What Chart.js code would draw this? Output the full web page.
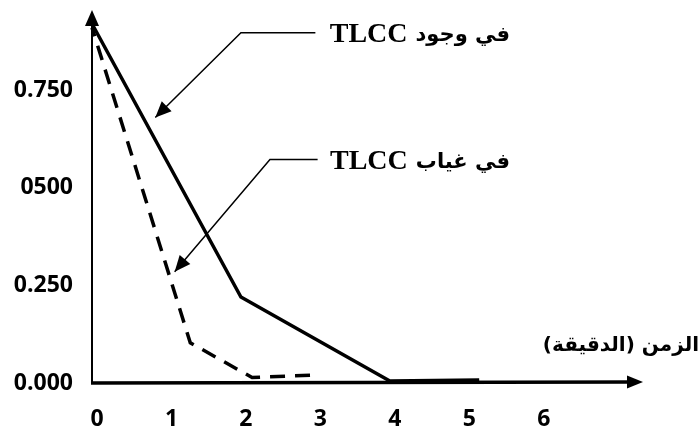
<!DOCTYPE html>
<html>
<head>
<meta charset="utf-8">
<script src="https://cdn.jsdelivr.net/npm/chart.js@4.4.1/dist/chart.umd.min.js"></script>
<style>
  body { margin: 0; background: #fff; }
</style>
</head>
<body>
<canvas id="plots" width="699" height="428"></canvas>
<script>
// time axis (minutes)
var timeTicks = [0, 1, 2, 3, 4, 5, 6];
// y ticks, label text as printed (incl. the "0500")
var yTickValues = [0, 0.25, 0.5, 0.75];
var yTickLabels = ["0.000", "0.250", "0500", "0.750"];

// with TLCC (solid)
var withX = [0, 2, 4, 5.2];
var withY = [0.92, 0.22, 0.005, 0.008];
// without TLCC (dashed)
var withoutX = [0, 1.32, 2.15, 3.05];
var withoutY = [0.91, 0.103, 0.014, 0.021];

var xTitle = "الزمن (الدقيقة)";
var calloutArabic = ["في وجود", "في غياب"];
var calloutLatin = "TLCC";

function pts(xs, ys) {
    return xs.map(function (x, i) { return { x: x, y: ys[i] }; });
}

function arrowHead(ctx, x0, y0, x1, y1, len, half) {
    var a = Math.atan2(y1 - y0, x1 - x0);
    ctx.beginPath();
    ctx.moveTo(x1, y1);
    ctx.lineTo(x1 - len * Math.cos(a) + half * Math.sin(a), y1 - len * Math.sin(a) - half * Math.cos(a));
    ctx.lineTo(x1 - len * Math.cos(a) - half * Math.sin(a), y1 - len * Math.sin(a) + half * Math.cos(a));
    ctx.closePath();
    ctx.fill();
}

// axes with arrows + callouts
var decor = {
    id: 'decor',
    beforeDatasetsDraw: function (chart) {
        var ctx = chart.ctx, a = chart.chartArea;
        ctx.save();
        ctx.strokeStyle = '#000';
        ctx.fillStyle = '#000';
        // y axis
        ctx.lineWidth = 2;
        ctx.beginPath();
        ctx.moveTo(a.left, a.bottom + 1);
        ctx.lineTo(a.left, a.top + 8);
        ctx.stroke();
        arrowHead(ctx, a.left, a.bottom, a.left, a.top - 2, 16, 7);
        // x axis
        ctx.lineWidth = 3.5;
        ctx.beginPath();
        ctx.moveTo(a.left - 1, a.bottom);
        ctx.lineTo(a.right - 8, a.bottom - 1);
        ctx.stroke();
        arrowHead(ctx, a.left, a.bottom - 1, a.right, a.bottom - 1, 16, 6.5);
        ctx.restore();
    },
    afterDraw: function (chart) {
        var ctx = chart.ctx, xs = chart.scales.x, ys = chart.scales.y;
        function px(v) { return xs.getPixelForValue(v); }
        function py(v) { return ys.getPixelForValue(v); }
        ctx.save();
        ctx.strokeStyle = '#000';
        ctx.fillStyle = '#000';
        ctx.lineWidth = 1.5;
        var callouts = [
            [[3.0, 0.897], [2.0, 0.897], [0.85, 0.68]],
            [[3.03, 0.572], [2.39, 0.572], [1.11, 0.285]]
        ];
        callouts.forEach(function (c, i) {
            ctx.beginPath();
            ctx.moveTo(px(c[0][0]), py(c[0][1]));
            ctx.lineTo(px(c[1][0]), py(c[1][1]));
            ctx.lineTo(px(c[2][0]), py(c[2][1]));
            ctx.stroke();
            arrowHead(ctx, px(c[1][0]), py(c[1][1]), px(c[2][0]), py(c[2][1]), 16, 7);
            var ty = py(c[0][1]) + 2;
            ctx.textBaseline = 'middle';
            ctx.textAlign = 'right';
            ctx.direction = 'rtl';
            ctx.font = "bold 21px 'DejaVu Sans'";
            ctx.fillText(calloutArabic[i], 510, ty + 1);
            var w = ctx.measureText(calloutArabic[i]).width;
            ctx.direction = 'ltr';
            ctx.font = "bold 28px 'Liberation Serif'";
            ctx.fillText(calloutLatin, 510 - w - 8, ty);
        });
        // x title
        ctx.font = "bold 20px 'DejaVu Sans'";
        ctx.direction = 'rtl';
        ctx.textAlign = 'right';
        ctx.textBaseline = 'middle';
        ctx.fillText(xTitle, 699, 346);
        ctx.restore();
    }
};

new Chart(document.getElementById("plots"), {
    type: 'line',
    data: {
        datasets: [{
            data: pts(withX, withY),
            borderColor: '#000',
            borderWidth: 3.5,
            pointRadius: 0,
            fill: false,
            tension: 0,
            clip: false
        }, {
            data: pts(withoutX, withoutY),
            borderColor: '#000',
            borderWidth: 3.5,
            borderDash: [15, 10],
            borderDashOffset: 6,
            pointRadius: 0,
            fill: false,
            tension: 0,
            clip: false
        }]
    },
    plugins: [decor],
    options: {
        responsive: false,
        animation: false,
        devicePixelRatio: 1,
        layout: { padding: { top: 12, right: 56, left: 0, bottom: 0 } },
        plugins: { legend: { display: false }, tooltip: { enabled: false } },
        scales: {
            x: {
                type: 'linear',
                min: 0,
                max: 7.4,
                afterBuildTicks: function (s) { s.ticks = timeTicks.map(function (v) { return { value: v }; }); },
                afterFit: function (s) { s.height = 45; s.paddingLeft = 0; s.paddingRight = 0; },
                grid: { display: false, drawTicks: false },
                border: { display: false },
                ticks: {
                    color: '#000',
                    padding: 23,
                    labelOffset: 5,
                    maxRotation: 0,
                    autoSkip: false,
                    font: { family: 'Open Sans', weight: 'bold', size: 23 }
                }
            },
            y: {
                type: 'linear',
                min: 0,
                max: 0.95,
                afterBuildTicks: function (s) { s.ticks = yTickValues.map(function (v) { return { value: v }; }); },
                afterFit: function (s) { s.width = 92; s.paddingTop = 0; s.paddingBottom = 0; },
                grid: { display: false, drawTicks: false },
                border: { display: false },
                ticks: {
                    color: '#000',
                    padding: 19,
                    autoSkip: false,
                    font: { family: 'Open Sans', weight: 'bold', size: 23 },
                    callback: function (v) {
                        var i = yTickValues.indexOf(v);
                        return i >= 0 ? yTickLabels[i] : '';
                    }
                }
            }
        }
    }
});
</script>
</body>
</html>
